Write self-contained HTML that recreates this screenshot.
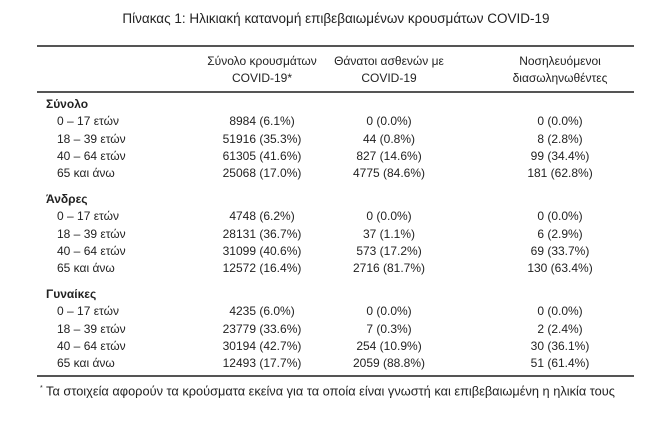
<!DOCTYPE html>
<html><head><meta charset="utf-8"><style>
body{margin:0;background:#fff;width:672px;height:445px;position:relative;font-family:"Liberation Sans","DejaVu Sans",sans-serif;color:#222;font-size:12px;overflow:hidden}
.t{position:absolute;white-space:nowrap;line-height:14px}
.c{transform:translateX(-50%)}
.rule{position:absolute;left:37px;width:597px;background:#555}
b{font-weight:bold}
</style></head><body>
<div class="t c" style="left:336px;top:10px;font-size:13.5px;line-height:17px">Πίνακας 1: Ηλικιακή κατανομή επιβεβαιωμένων κρουσμάτων COVID-19</div>
<div class="rule" style="top:45px;height:2px"></div>
<div class="t c" style="left:262px;top:54px">Σύνολο κρουσμάτων</div>
<div class="t c" style="left:262px;top:71px">COVID-19*</div>
<div class="t c" style="left:389px;top:54px">Θάνατοι ασθενών με</div>
<div class="t c" style="left:389px;top:71px">COVID-19</div>
<div class="t c" style="left:560px;top:54px">Νοσηλευόμενοι</div>
<div class="t c" style="left:560px;top:71px">διασωληνωθέντες</div>
<div class="rule" style="top:91px;height:1.5px"></div>
<div id="rows"></div>
<div class="rule" style="top:375px;height:2px"></div>
<div class="t" style="left:40px;top:382px;font-size:12.8px"><sup style="font-size:7px">*</sup> Τα στοιχεία αφορούν τα κρούσματα εκείνα για τα οποία είναι γνωστή και επιβεβαιωμένη η ηλικία τους</div>
<script>
var g=[["Σύνολο",97,[["0 – 17 ετών","8984 (6.1%)","0 (0.0%)","0 (0.0%)"],["18 – 39 ετών","51916 (35.3%)","44 (0.8%)","8 (2.8%)"],["40 – 64 ετών","61305 (41.6%)","827 (14.6%)","99 (34.4%)"],["65 και άνω","25068 (17.0%)","4775 (84.6%)","181 (62.8%)"]]],
["Άνδρες",192,[["0 – 17 ετών","4748 (6.2%)","0 (0.0%)","0 (0.0%)"],["18 – 39 ετών","28131 (36.7%)","37 (1.1%)","6 (2.9%)"],["40 – 64 ετών","31099 (40.6%)","573 (17.2%)","69 (33.7%)"],["65 και άνω","12572 (16.4%)","2716 (81.7%)","130 (63.4%)"]]],
["Γυναίκες",287,[["0 – 17 ετών","4235 (6.0%)","0 (0.0%)","0 (0.0%)"],["18 – 39 ετών","23779 (33.6%)","7 (0.3%)","2 (2.4%)"],["40 – 64 ετών","30194 (42.7%)","254 (10.9%)","30 (36.1%)"],["65 και άνω","12493 (17.7%)","2059 (88.8%)","51 (61.4%)"]]]];
var h="";g.forEach(function(x){h+='<div class="t" style="left:46px;top:'+x[1]+'px"><b>'+x[0]+'</b></div>';
x[2].forEach(function(r,i){var y=x[1]+17.3*(i+1);h+='<div class="t" style="left:57px;top:'+y+'px">'+r[0]+'</div><div class="t c" style="left:262px;top:'+y+'px">'+r[1]+'</div><div class="t c" style="left:389px;top:'+y+'px">'+r[2]+'</div><div class="t c" style="left:560px;top:'+y+'px">'+r[3]+'</div>';});});
document.getElementById("rows").innerHTML=h;
</script>
</body></html>
